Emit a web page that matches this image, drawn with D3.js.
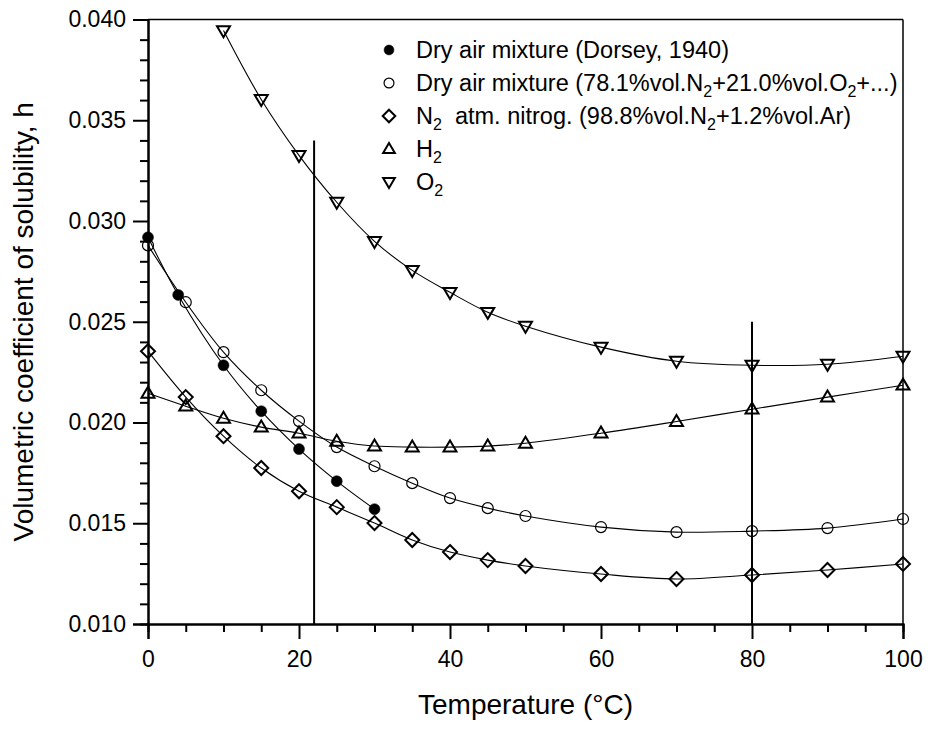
<!DOCTYPE html>
<html>
<head>
<meta charset="utf-8">
<script src="https://cdn.jsdelivr.net/npm/d3@7"></script>
<style>
  body { margin: 0; background: #fff; }
  text { font-family: "Liberation Sans", Arial, sans-serif; fill: #000; }
</style>
</head>
<body>
<svg id="chart" width="928" height="729"></svg>
<script>
// ---- data ----
const dorseyT = [0, 4, 10, 15, 20, 25, 30];
const dorseyH = [0.02919, 0.02633, 0.02284, 0.02056, 0.01868, 0.01709, 0.01570];

const tempsFull = [0, 5, 10, 15, 20, 25, 30, 35, 40, 45, 50, 60, 70, 80, 90, 100];
const dryAirH = [0.02879, 0.02597, 0.02349, 0.02160, 0.02007, 0.01878, 0.01783, 0.01699, 0.01625, 0.01575, 0.01536, 0.01481, 0.01456, 0.01461, 0.01476, 0.01521];
const n2H     = [0.02354, 0.02126, 0.01932, 0.01774, 0.01659, 0.01580, 0.01501, 0.01417, 0.01357, 0.01317, 0.01288, 0.01248, 0.01223, 0.01243, 0.01268, 0.01298];
const h2H     = [0.02145, 0.02081, 0.02021, 0.01977, 0.01947, 0.01907, 0.01883, 0.01878, 0.01878, 0.01883, 0.01897, 0.01947, 0.02005, 0.02066, 0.02126, 0.02185];

const o2T = [10, 15, 20, 25, 30, 35, 40, 45, 50, 60, 70, 80, 90, 100];
const o2H = [0.03945, 0.03603, 0.03326, 0.03093, 0.02899, 0.02755, 0.02646, 0.02547, 0.02478, 0.02374, 0.02304, 0.02284, 0.02289, 0.02329];

const refLineT   = [22, 80];
const refLineTop = [0.034, 0.025];

const xTicks = [0, 20, 40, 60, 80, 100];
const yTicks = [0.010, 0.015, 0.020, 0.025, 0.030, 0.035, 0.040];

const legendLabels = [
  ["Dry air mixture (Dorsey, 1940)"],
  ["Dry air mixture (78.1%vol.N", "2", "+21.0%vol.O", "2", "+...)"],
  ["N", "2", "  atm. nitrog. (98.8%vol.N", "2", "+1.2%vol.Ar)"],
  ["H", "2"],
  ["O", "2"]
];
const xTitle = "Temperature (°C)";
const yTitle = "Volumetric coefficient of solubility, h";

// ---- layout ----
const W = 928, H = 729;
const margin = { left: 148, right: 25, top: 19.5, bottom: 105 };
const svg = d3.select("#chart");
const x = d3.scaleLinear().domain([0, 100]).range([margin.left, W - margin.right]);
const y = d3.scaleLinear().domain([0.010, 0.040]).range([H - margin.bottom, margin.top]);

// frame top and right
svg.append("line").attr("x1", x(0)).attr("x2", x(100)).attr("y1", y(0.040)).attr("y2", y(0.040))
  .attr("stroke", "#000").attr("stroke-width", 1.5);
svg.append("line").attr("x1", x(100)).attr("x2", x(100)).attr("y1", y(0.040)).attr("y2", y(0.010))
  .attr("stroke", "#000").attr("stroke-width", 1.5);

// x axis
const xMinor = d3.range(0, 101, 5).filter(v => v % 20 !== 0);
const xAxisG = svg.append("g").attr("transform", `translate(0,${y(0.010)})`);
xAxisG.call(d3.axisBottom(x).tickValues(xMinor).tickSize(8).tickFormat(""));
xAxisG.append("g").call(d3.axisBottom(x).tickValues(xTicks).tickSize(15).tickPadding(12).tickFormat(d3.format("d")));
xAxisG.selectAll("path.domain").attr("stroke-width", 2);
xAxisG.selectAll(".tick line").attr("stroke-width", 2);
xAxisG.selectAll(".tick text").attr("font-size", 23).attr("font-family", "Liberation Sans, Arial, sans-serif");

// y axis
const yMinor = d3.range(10, 41, 1).filter(v => v % 5 !== 0).map(v => v / 1000);
const yAxisG = svg.append("g").attr("transform", `translate(${x(0)},0)`);
yAxisG.call(d3.axisLeft(y).tickValues(yMinor).tickSize(8).tickFormat(""));
yAxisG.append("g").call(d3.axisLeft(y).tickValues(yTicks).tickSize(15).tickPadding(7).tickFormat(d3.format(".3f")));
yAxisG.selectAll("path.domain").attr("stroke-width", 2);
yAxisG.selectAll(".tick line").attr("stroke-width", 2);
yAxisG.selectAll(".tick text").attr("font-size", 23).attr("font-family", "Liberation Sans, Arial, sans-serif");

// axis titles
svg.append("text").attr("x", (x(0) + x(100)) / 2).attr("y", 714).attr("text-anchor", "middle")
  .attr("font-size", 28).text(xTitle);
svg.append("text").attr("transform", `translate(33,${(y(0.010) + y(0.040)) / 2}) rotate(-90)`)
  .attr("text-anchor", "middle").attr("font-size", 28).text(yTitle);

// reference vertical lines
refLineT.forEach((t, i) => {
  svg.append("line").attr("x1", x(t)).attr("x2", x(t)).attr("y1", y(refLineTop[i])).attr("y2", y(0.010))
    .attr("stroke", "#000").attr("stroke-width", 2);
});

// curves
const line = d3.line().x(d => x(d[0])).y(d => y(d[1])).curve(d3.curveCatmullRom.alpha(0.5));
const zip = (a, b) => a.map((v, i) => [v, b[i]]);
const series = [
  { pts: zip(dorseyT, dorseyH), sym: "fcircle" },
  { pts: zip(tempsFull, dryAirH), sym: "ocircle" },
  { pts: zip(tempsFull, n2H), sym: "diamond" },
  { pts: zip(tempsFull, h2H), sym: "tri" },
  { pts: zip(o2T, o2H), sym: "dtri" }
];
series.forEach(s => {
  svg.append("path").attr("d", line(s.pts)).attr("fill", "none").attr("stroke", "#000").attr("stroke-width", 1.1);
});

function symPath(type, s) {
  const p = d3.path();
  if (type === "fcircle" || type === "ocircle") {
    p.arc(0, 0, 5.5 * s, 0, 2 * Math.PI);
  } else if (type === "diamond") {
    const r = 7 * s;
    p.moveTo(0, -r); p.lineTo(r, 0); p.lineTo(0, r); p.lineTo(-r, 0); p.closePath();
  } else if (type === "tri") {
    const w = 6.5 * s, h = 11 * s;
    p.moveTo(0, -h * 0.6); p.lineTo(w, h * 0.4); p.lineTo(-w, h * 0.4); p.closePath();
  } else if (type === "dtri") {
    const w = 6.5 * s, h = 11 * s;
    p.moveTo(0, h * 0.6); p.lineTo(w, -h * 0.4); p.lineTo(-w, -h * 0.4); p.closePath();
  }
  return p.toString();
}
function drawSym(g, type, cx, cy, s) {
  g.append("path").attr("d", symPath(type, s)).attr("transform", `translate(${cx},${cy})`)
    .attr("fill", type === "fcircle" ? "#000" : "none")
    .attr("stroke", "#000")
    .attr("stroke-width", type === "ocircle" ? 1.2 : (type === "fcircle" ? 0.5 : 2));
}
series.forEach(s => {
  const g = svg.append("g");
  s.pts.forEach(d => drawSym(g, s.sym, x(d[0]), y(d[1]), 1));
});

// legend
const legX = 389, legTextX = 416, legY0 = 50, legDy = 33;
const legG = svg.append("g");
series.forEach((s, i) => {
  const cy = legY0 + i * legDy;
  drawSym(legG, s.sym, legX, cy, 0.9);
  const t = legG.append("text").attr("x", legTextX).attr("y", cy + 8).attr("font-size", 23.5)
    .attr("xml:space", "preserve").style("white-space", "pre");
  legendLabels[i].forEach((part, j) => {
    if (j % 2 === 1) {
      t.append("tspan").attr("font-size", 16).attr("dy", 6).text(part);
    } else {
      const ts = t.append("tspan").text(part);
      if (j > 0) ts.attr("dy", -6);
    }
  });
});
</script>
</body>
</html>
